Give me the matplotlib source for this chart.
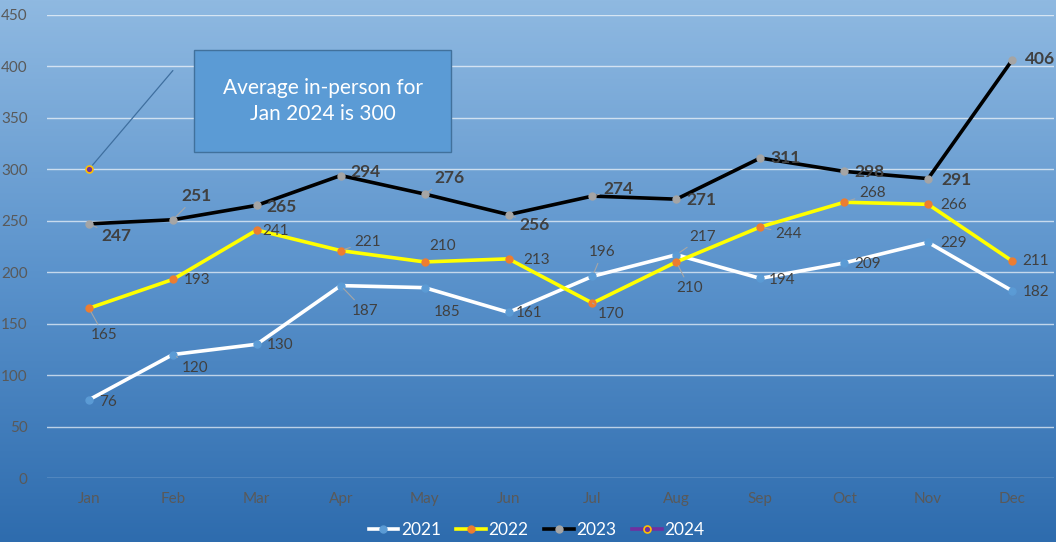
import numpy as np
import matplotlib.pyplot as plt
from matplotlib.patches import Rectangle
from matplotlib.colors import LinearSegmentedColormap

months = ["Jan", "Feb", "Mar", "Apr", "May", "Jun", "Jul", "Aug", "Sep", "Oct", "Nov", "Dec"]
y2021 = [76, 120, 130, 187, 185, 161, 196, 217, 194, 209, 229, 182]
y2022 = [165, 193, 241, 221, 210, 213, 170, 210, 244, 268, 266, 211]
y2023 = [247, 251, 265, 294, 276, 256, 274, 271, 311, 298, 291, 406]
y2024 = [300]
note = "Average in-person for\nJan 2024 is 300"

# label offsets in pixels (dx, dy down) relative to the point, and leader flags
off2021 = [(19, 2), (22, 13), (23, 1), (24, 25), (22, 24), (21, 1),
           (10, -24), (26, -18), (22, 2), (23, 1), (25, 1), (24, 1)]
lead2021 = [0, 1, 0, 1, 0, 0, 1, 1, 0, 0, 0, 0]
off2022 = [(15, 27), (24, 1), (19, 1), (27, -9), (18, -16), (28, 1),
           (19, 11), (13, 26), (28, 7), (28, -9), (25, 1), (24, 0)]
lead2022 = [1, 0, 0, 1, 0, 0, 1, 1, 1, 1, 0, 0]
off2023 = [(27, 12), (24, -24), (25, 2), (25, -4), (25, -16), (26, 10),
           (26, -7), (25, 1), (25, 0), (25, 1), (28, 1), (28, -1)]
lead2023 = [1, 1, 0, 0, 1, 1, 1, 0, 0, 0, 0, 0]

plt.rcParams['font.family'] = ['Lato', 'DejaVu Sans']

fig = plt.figure(figsize=(10.56, 5.42), dpi=100)

# gradient background
bg = fig.add_axes([0, 0, 1, 1], zorder=-10)
cmap = LinearSegmentedColormap.from_list("bg", ["#8fb9e1", "#5b93cc", "#2e6cae"])
bg.imshow(np.linspace(0, 1, 256).reshape(-1, 1), aspect="auto", cmap=cmap,
          extent=[0, 1, 0, 1], origin="upper")
bg.axis("off")

ax = fig.add_axes([47 / 1056, 1 - 478 / 542, 1007 / 1056, 463 / 542])
ax.patch.set_alpha(0)
x = np.arange(len(months))

ax.plot(x, y2021, color="white", lw=2.6, marker="o", ms=5,
        mfc="#5b9bd5", mec="#5b9bd5", label="2021", zorder=3)
ax.plot(x, y2022, color="#ffff00", lw=2.6, marker="o", ms=5,
        mfc="#ed7d31", mec="#ed7d31", label="2022", zorder=3)
ax.plot(x, y2023, color="black", lw=2.6, marker="o", ms=5,
        mfc="#a5a5a5", mec="#a5a5a5", label="2023", zorder=4)
ax.plot(x[:len(y2024)], y2024, color="#7030a0", lw=2.6, marker="o", ms=5,
        mfc="#7030a0", mec="#ffc000", mew=1.2, label="2024", zorder=5)


def labels(vals, offs, leads, bold=False):
    for i, (v, (dx, dy), ld) in enumerate(zip(vals, offs, leads)):
        ax.annotate(str(v), (x[i], v), xytext=(dx * 0.72, -dy * 0.72),
                    textcoords="offset points", ha="center", va="center",
                    fontsize=12.5 if bold else 11, color="#404040",
                    fontweight="bold" if bold else "normal", zorder=6,
                    arrowprops=dict(arrowstyle="-", color="#a6a6a6", lw=0.8,
                                    shrinkA=1, shrinkB=3) if ld else None)


labels(y2021, off2021, lead2021)
labels(y2022, off2022, lead2022)
labels(y2023, off2023, lead2023, bold=True)

# callout for 2024
ax.annotate("", (x[0], y2024[0]), xytext=(1.0, 396),
            arrowprops=dict(arrowstyle="-", color="#3f6f9f", lw=0.9,
                            shrinkA=0, shrinkB=4))
box_x0, box_x1 = (194 - 89) / 83.9, (451 - 89) / 83.9
box_y0, box_y1 = (478 - 152) / 1.029, (478 - 50) / 1.029
ax.add_patch(Rectangle((box_x0, box_y0), box_x1 - box_x0, box_y1 - box_y0,
                       facecolor="#5b9bd5", edgecolor="#41719c", lw=1, zorder=7,
                       clip_on=False))
ax.text((box_x0 + box_x1) / 2, (box_y0 + box_y1) / 2, note, ha="center",
        va="center", color="white", fontsize=15, zorder=8, linespacing=1.35)

ax.set_xlim(-0.5, 11.5)
ax.set_ylim(0, 450)
ax.set_yticks(range(0, 451, 50))
ax.set_xticks(x)
ax.set_xticklabels(months)
ax.tick_params(length=0, labelsize=11, colors="#595959", pad=10)
ax.tick_params(axis="y", pad=14)
ax.grid(axis="y", color="white", alpha=0.65, lw=1)
ax.set_axisbelow(True)
for s in ax.spines.values():
    s.set_visible(False)

h, l = ax.get_legend_handles_labels()
leg = fig.legend(h, l, loc="center", bbox_to_anchor=(0.508, 1 - 530 / 542), ncol=4,
                 frameon=False, fontsize=12.5, handlelength=1.7, columnspacing=0.9,
                 handletextpad=0.15, borderpad=0.1)
for t in leg.get_texts():
    t.set_color("white")

fig.savefig("out.png", dpi=100)
